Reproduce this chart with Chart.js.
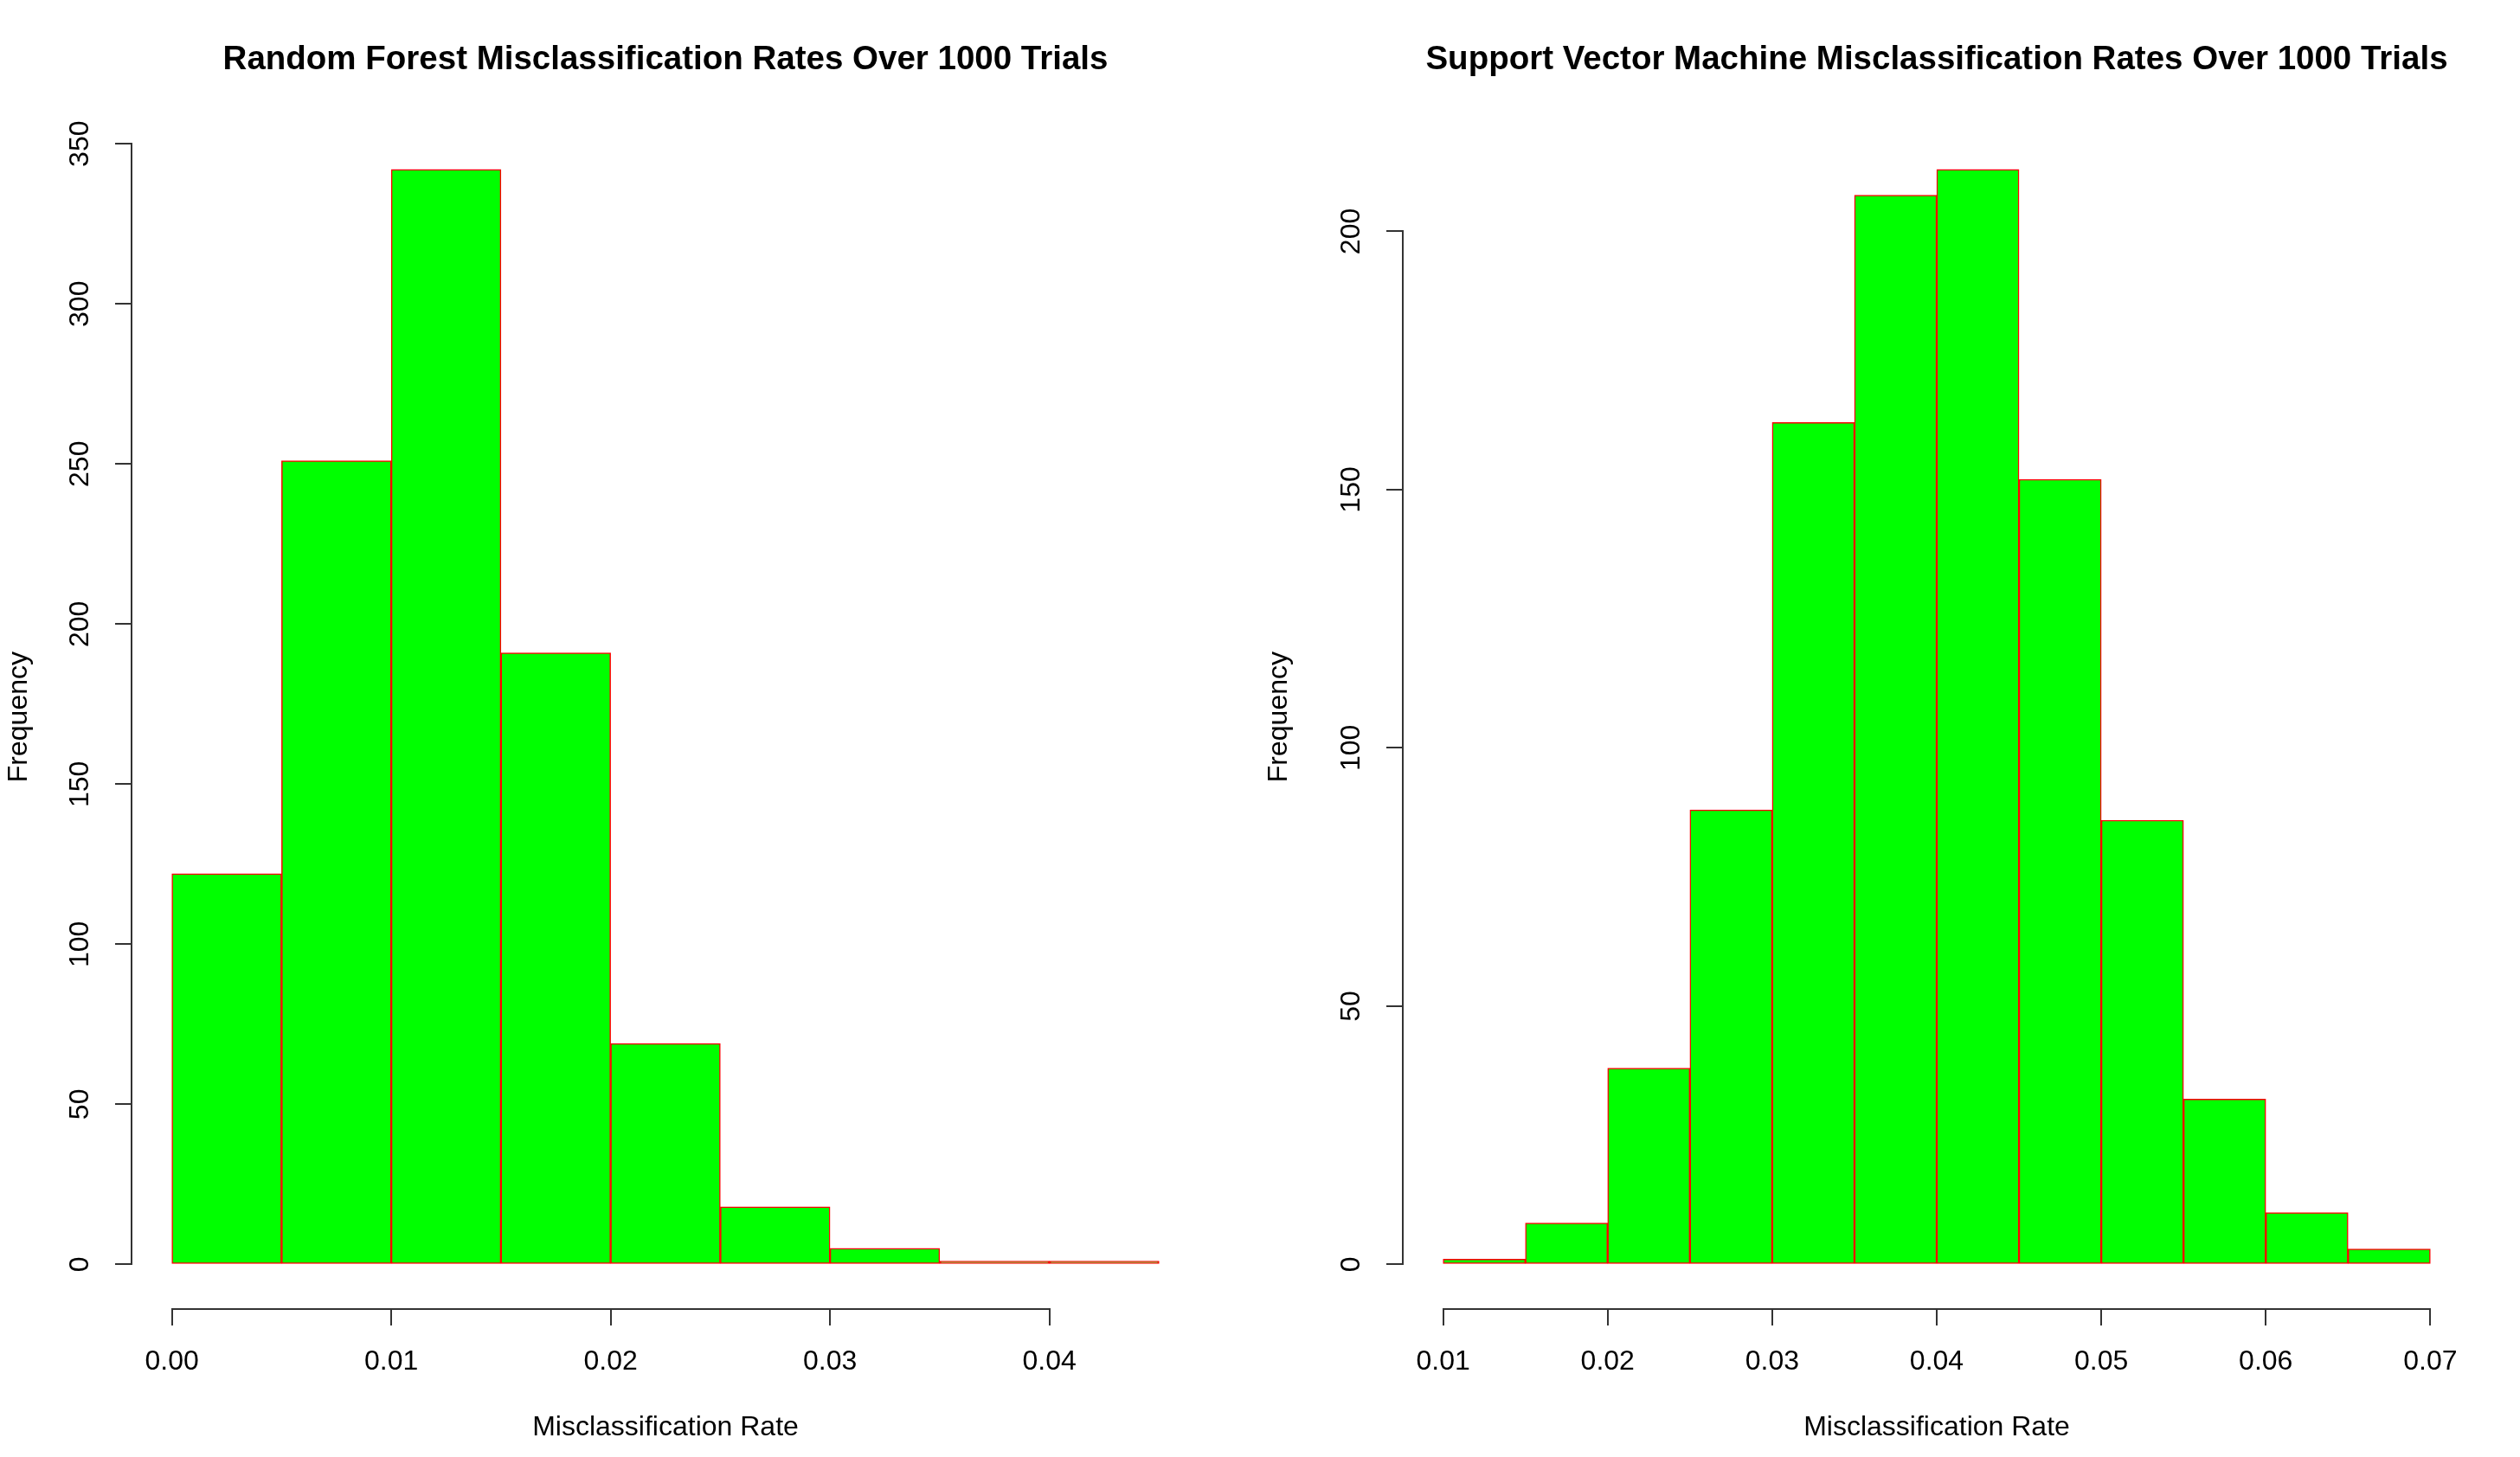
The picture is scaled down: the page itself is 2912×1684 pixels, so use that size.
<!DOCTYPE html>
<html>
<head>
<meta charset="utf-8">
<script src="https://cdn.jsdelivr.net/npm/chart.js@4.4.0/dist/chart.umd.min.js"></script>
<style>
  html, body { margin: 0; padding: 0; background: #fff; }
  .panel { position: absolute; top: 0; width: 1456px; height: 1684px; }
</style>
</head>
<body>
<div class="panel" style="left:0"><canvas id="rfChart" width="1456" height="1684"></canvas></div>
<div class="panel" style="left:1456px"><canvas id="svmChart" width="1456" height="1684"></canvas></div>
<script>
// histogram bins (breaks) and counts
const rfBreaks = [0, 0.005, 0.01, 0.015, 0.02, 0.025, 0.03, 0.035, 0.04, 0.045];
const rfCounts = [122, 251, 342, 191, 69, 18, 5, 1, 1];
const rfXTicks = [0, 0.01, 0.02, 0.03, 0.04];
const rfYTicks = [0, 50, 100, 150, 200, 250, 300, 350];

const svmBreaks = [0.01, 0.015, 0.02, 0.025, 0.03, 0.035, 0.04, 0.045, 0.05, 0.055, 0.06, 0.065, 0.07];
const svmCounts = [1, 8, 38, 88, 163, 207, 212, 152, 86, 32, 10, 3];
const svmXTicks = [0.01, 0.02, 0.03, 0.04, 0.05, 0.06, 0.07];
const svmYTicks = [0, 50, 100, 150, 200];

Chart.defaults.font.family = "'Liberation Sans', Arial, sans-serif";
Chart.defaults.color = "#000";

// R draws the axis line only between the first and last tick
const axisLines = {
  id: "axisLines",
  afterDraw(chart) {
    const { ctx, chartArea, scales } = chart;
    const xt = scales.x.ticks;
    const yt = scales.y.ticks;
    ctx.save();
    ctx.strokeStyle = "#333";
    ctx.lineWidth = 2;
    ctx.beginPath();
    ctx.moveTo(scales.x.getPixelForValue(xt[0].value), chartArea.bottom + 1);
    ctx.lineTo(scales.x.getPixelForValue(xt[xt.length - 1].value), chartArea.bottom + 1);
    ctx.moveTo(chartArea.left - 1, scales.y.getPixelForValue(yt[0].value));
    ctx.lineTo(chartArea.left - 1, scales.y.getPixelForValue(yt[yt.length - 1].value));
    ctx.stroke();
    ctx.restore();
  }
};

function makeHist(id, title, breaks, counts, xTicks, yTicks, leftW, rightPad) {
  const points = counts.map((c, i) => ({ x: (breaks[i] + breaks[i + 1]) / 2, y: c }));
  const lo = breaks[0], hi = breaks[breaks.length - 1];
  const xPad = (hi - lo) * 0.04;
  const yTop = Math.max(...counts);
  const yPad = yTop * 0.04;

  return new Chart(document.getElementById(id), {
    type: "bar",
    data: {
      datasets: [{
        data: points,
        backgroundColor: "#00ff00",
        borderColor: "#ff0000",
        borderWidth: 1.5,
        borderSkipped: false,
        barPercentage: 1,
        categoryPercentage: 1
      }]
    },
    options: {
      responsive: false,
      devicePixelRatio: 1,
      animation: false,
      layout: { padding: { left: 0, right: rightPad, top: 0, bottom: 0 } },
      plugins: {
        legend: { display: false },
        tooltip: { enabled: false },
        title: {
          display: true,
          text: title,
          fullSize: false,
          font: { size: 38.5, weight: "bold" },
          padding: { top: 46, bottom: 53 }
        }
      },
      scales: {
        x: {
          type: "linear",
          offset: false,
          min: lo - xPad,
          max: hi + xPad,
          afterBuildTicks: s => { s.ticks = xTicks.map(v => ({ value: v })); },
          afterFit: s => { s.height = 172; },
          border: { display: false },
          grid: { offset: false, drawOnChartArea: false, drawTicks: true, tickLength: 20, color: "#333", lineWidth: 2 },
          ticks: { font: { size: 32 }, padding: 23, maxRotation: 0, callback: v => v.toFixed(2) },
          title: { display: true, text: "Misclassification Rate", font: { size: 32 }, padding: { top: 0, bottom: 15 } }
        },
        y: {
          min: -yPad,
          max: yTop + yPad,
          afterBuildTicks: s => { s.ticks = yTicks.map(v => ({ value: v })); },
          afterFit: s => { s.width = leftW; },
          border: { display: false },
          grid: { drawOnChartArea: false, drawTicks: true, tickLength: 20, color: "#333", lineWidth: 2 },
          ticks: { font: { size: 32 }, padding: 13, minRotation: 90, maxRotation: 90, crossAlign: "center", callback: v => String(v) },
          title: { display: true, text: "Frequency", font: { size: 32 }, padding: { top: 3, bottom: 0 } }
        }
      }
    },
    plugins: [axisLines]
  });
}

makeHist("rfChart", "Random Forest Misclassification Rates Over 1000 Trials",
  rfBreaks, rfCounts, rfXTicks, rfYTicks, 153, 71);
makeHist("svmChart", "Support Vector Machine Misclassification Rates Over 1000 Trials",
  svmBreaks, svmCounts, svmXTicks, svmYTicks, 166, 58);
</script>
</body>
</html>
